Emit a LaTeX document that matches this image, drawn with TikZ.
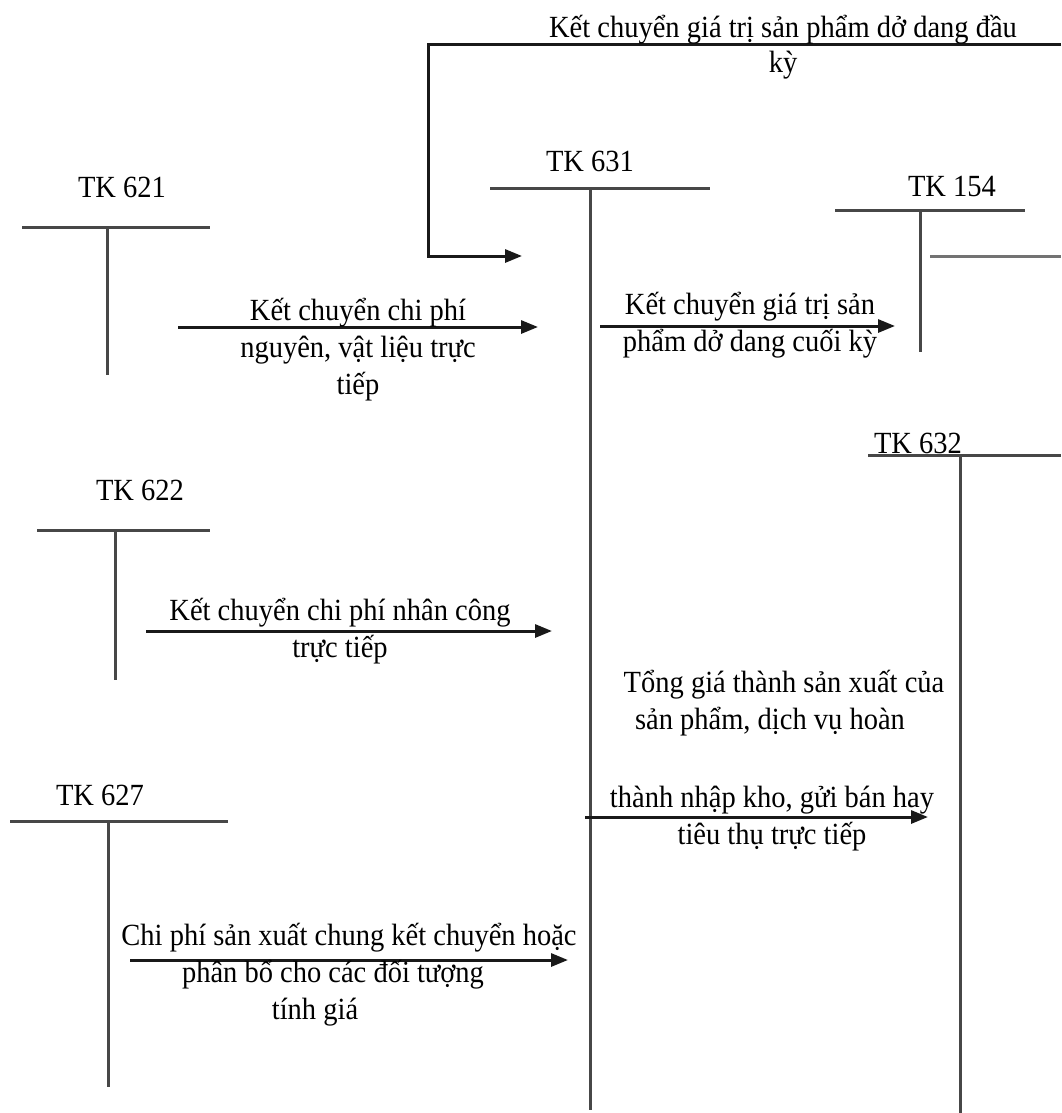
\documentclass[tikz,border=0pt]{standalone}
\usepackage{fontspec}
\setmainfont{Liberation Serif}
\usepackage{graphicx}
\usetikzlibrary{arrows.meta}
\newcommand{\ys}{1.08}
\newcommand{\lbl}[1]{\scalebox{1}[\ys]{\begin{tabular}[t]{@{}c@{}}#1\end{tabular}}}
\begin{document}
\begin{tikzpicture}[x=1pt,y=-1pt,
  tline/.style={line width=3pt, draw=black!72},
  tgray/.style={line width=3pt, draw=black!55},
  arr/.style={line width=3pt, draw=black!90, -{Triangle[length=17pt,width=13pt]}},
  txt/.style={inner sep=0pt, anchor=base, font=\fontsize{28.5}{34.5}\selectfont}]
\useasboundingbox (0,0) rectangle (1061,1113);

% ---- T accounts ----
% TK 621
\node[txt] (l621) at (122,197) {\lbl{TK 621}};
\coordinate (h621a) at (22,227); \coordinate (h621b) at (210,227);
\coordinate (v621a) at (107,227); \coordinate (v621b) at (107,375);
\draw[tline] (h621a) -- (h621b);
\draw[tline] (v621a) -- (v621b);
% TK 622
\node[txt] (l622) at (140,500) {\lbl{TK 622}};
\coordinate (h622a) at (37,530); \coordinate (h622b) at (210,530);
\coordinate (v622a) at (115,530); \coordinate (v622b) at (115,680);
\draw[tline] (h622a) -- (h622b);
\draw[tline] (v622a) -- (v622b);
% TK 627
\node[txt] (l627) at (100,805) {\lbl{TK 627}};
\coordinate (h627a) at (10,821); \coordinate (h627b) at (228,821);
\coordinate (v627a) at (108,821); \coordinate (v627b) at (108,1087);
\draw[tline] (h627a) -- (h627b);
\draw[tline] (v627a) -- (v627b);
% TK 631
\node[txt] (l631) at (590,171) {\lbl{TK 631}};
\coordinate (h631a) at (490,188); \coordinate (h631b) at (710,188);
\coordinate (v631a) at (590,188); \coordinate (v631b) at (590,1110);
\draw[tline] (h631a) -- (h631b);
\draw[tline] (v631a) -- (v631b);
% TK 154
\node[txt] (l154) at (952,196) {\lbl{TK 154}};
\coordinate (h154a) at (835,210); \coordinate (h154b) at (1025,210);
\coordinate (v154a) at (920,210); \coordinate (v154b) at (920,352);
\coordinate (g154a) at (930,256); \coordinate (g154b) at (1061,256);
\draw[tline] (h154a) -- (h154b);
\draw[tline] (v154a) -- (v154b);
\draw[tgray] (g154a) -- (g154b);
% TK 632
\node[txt] (l632) at (918,453) {\lbl{TK 632}};
\coordinate (h632a) at (868,455); \coordinate (h632b) at (1061,455);
\coordinate (v632a) at (960,455); \coordinate (v632b) at (960,1113);
\draw[tline] (h632a) -- (h632b);
\draw[tline] (v632a) -- (v632b);

% ---- top bracket: opening balance ----
\coordinate (t0) at (1061,45);
\coordinate (t1) at (428,45);
\coordinate (t2) at (428,256);
\coordinate (t3) at (522,256);
\draw[arr] (t0) -- (t1) -- (t2) -- (t3);
\node[txt] (ltop) at (783,38) {\lbl{Kết chuyển giá trị sản phẩm dở dang đầu\\[-3pt] kỳ}};

% ---- arrows ----
\coordinate (a1s) at (178,327); \coordinate (a1e) at (538,327);
\draw[arr] (a1s) -- (a1e);
\node[txt] (la1) at (358,320) {\lbl{Kết chuyển chi phí\\ nguyên, vật liệu trực\\ tiếp}};

\coordinate (a2s) at (600,326); \coordinate (a2e) at (895,326);
\draw[arr] (a2s) -- (a2e);
\node[txt] (la2) at (750,314) {\lbl{Kết chuyển giá trị sản\\ phẩm dở dang cuối kỳ}};

\coordinate (a3s) at (146,631); \coordinate (a3e) at (552,631);
\draw[arr] (a3s) -- (a3e);
\node[txt] (la3) at (340,620) {\lbl{Kết chuyển chi phí nhân công\\ trực tiếp}};

\coordinate (a4s) at (585,817); \coordinate (a4e) at (928,817);
\draw[arr] (a4s) -- (a4e);
\node[txt] (la4a) at (784,692) {\lbl{Tổng giá thành sản xuất của\\ sản phẩm, dịch vụ hoàn\hspace*{28pt}}};
\node[txt] (la4b) at (772,807) {\lbl{thành nhập kho, gửi bán hay\\ tiêu thụ trực tiếp}};

\coordinate (a5s) at (130,960); \coordinate (a5e) at (568,960);
\draw[arr] (a5s) -- (a5e);
\node[txt] (la5) at (349,945) {\lbl{Chi phí sản xuất chung kết chuyển hoặc\\ phân bổ cho các đối tượng\hspace*{32pt}\\ tính giá\hspace*{68pt}}};
\end{tikzpicture}
\end{document}
